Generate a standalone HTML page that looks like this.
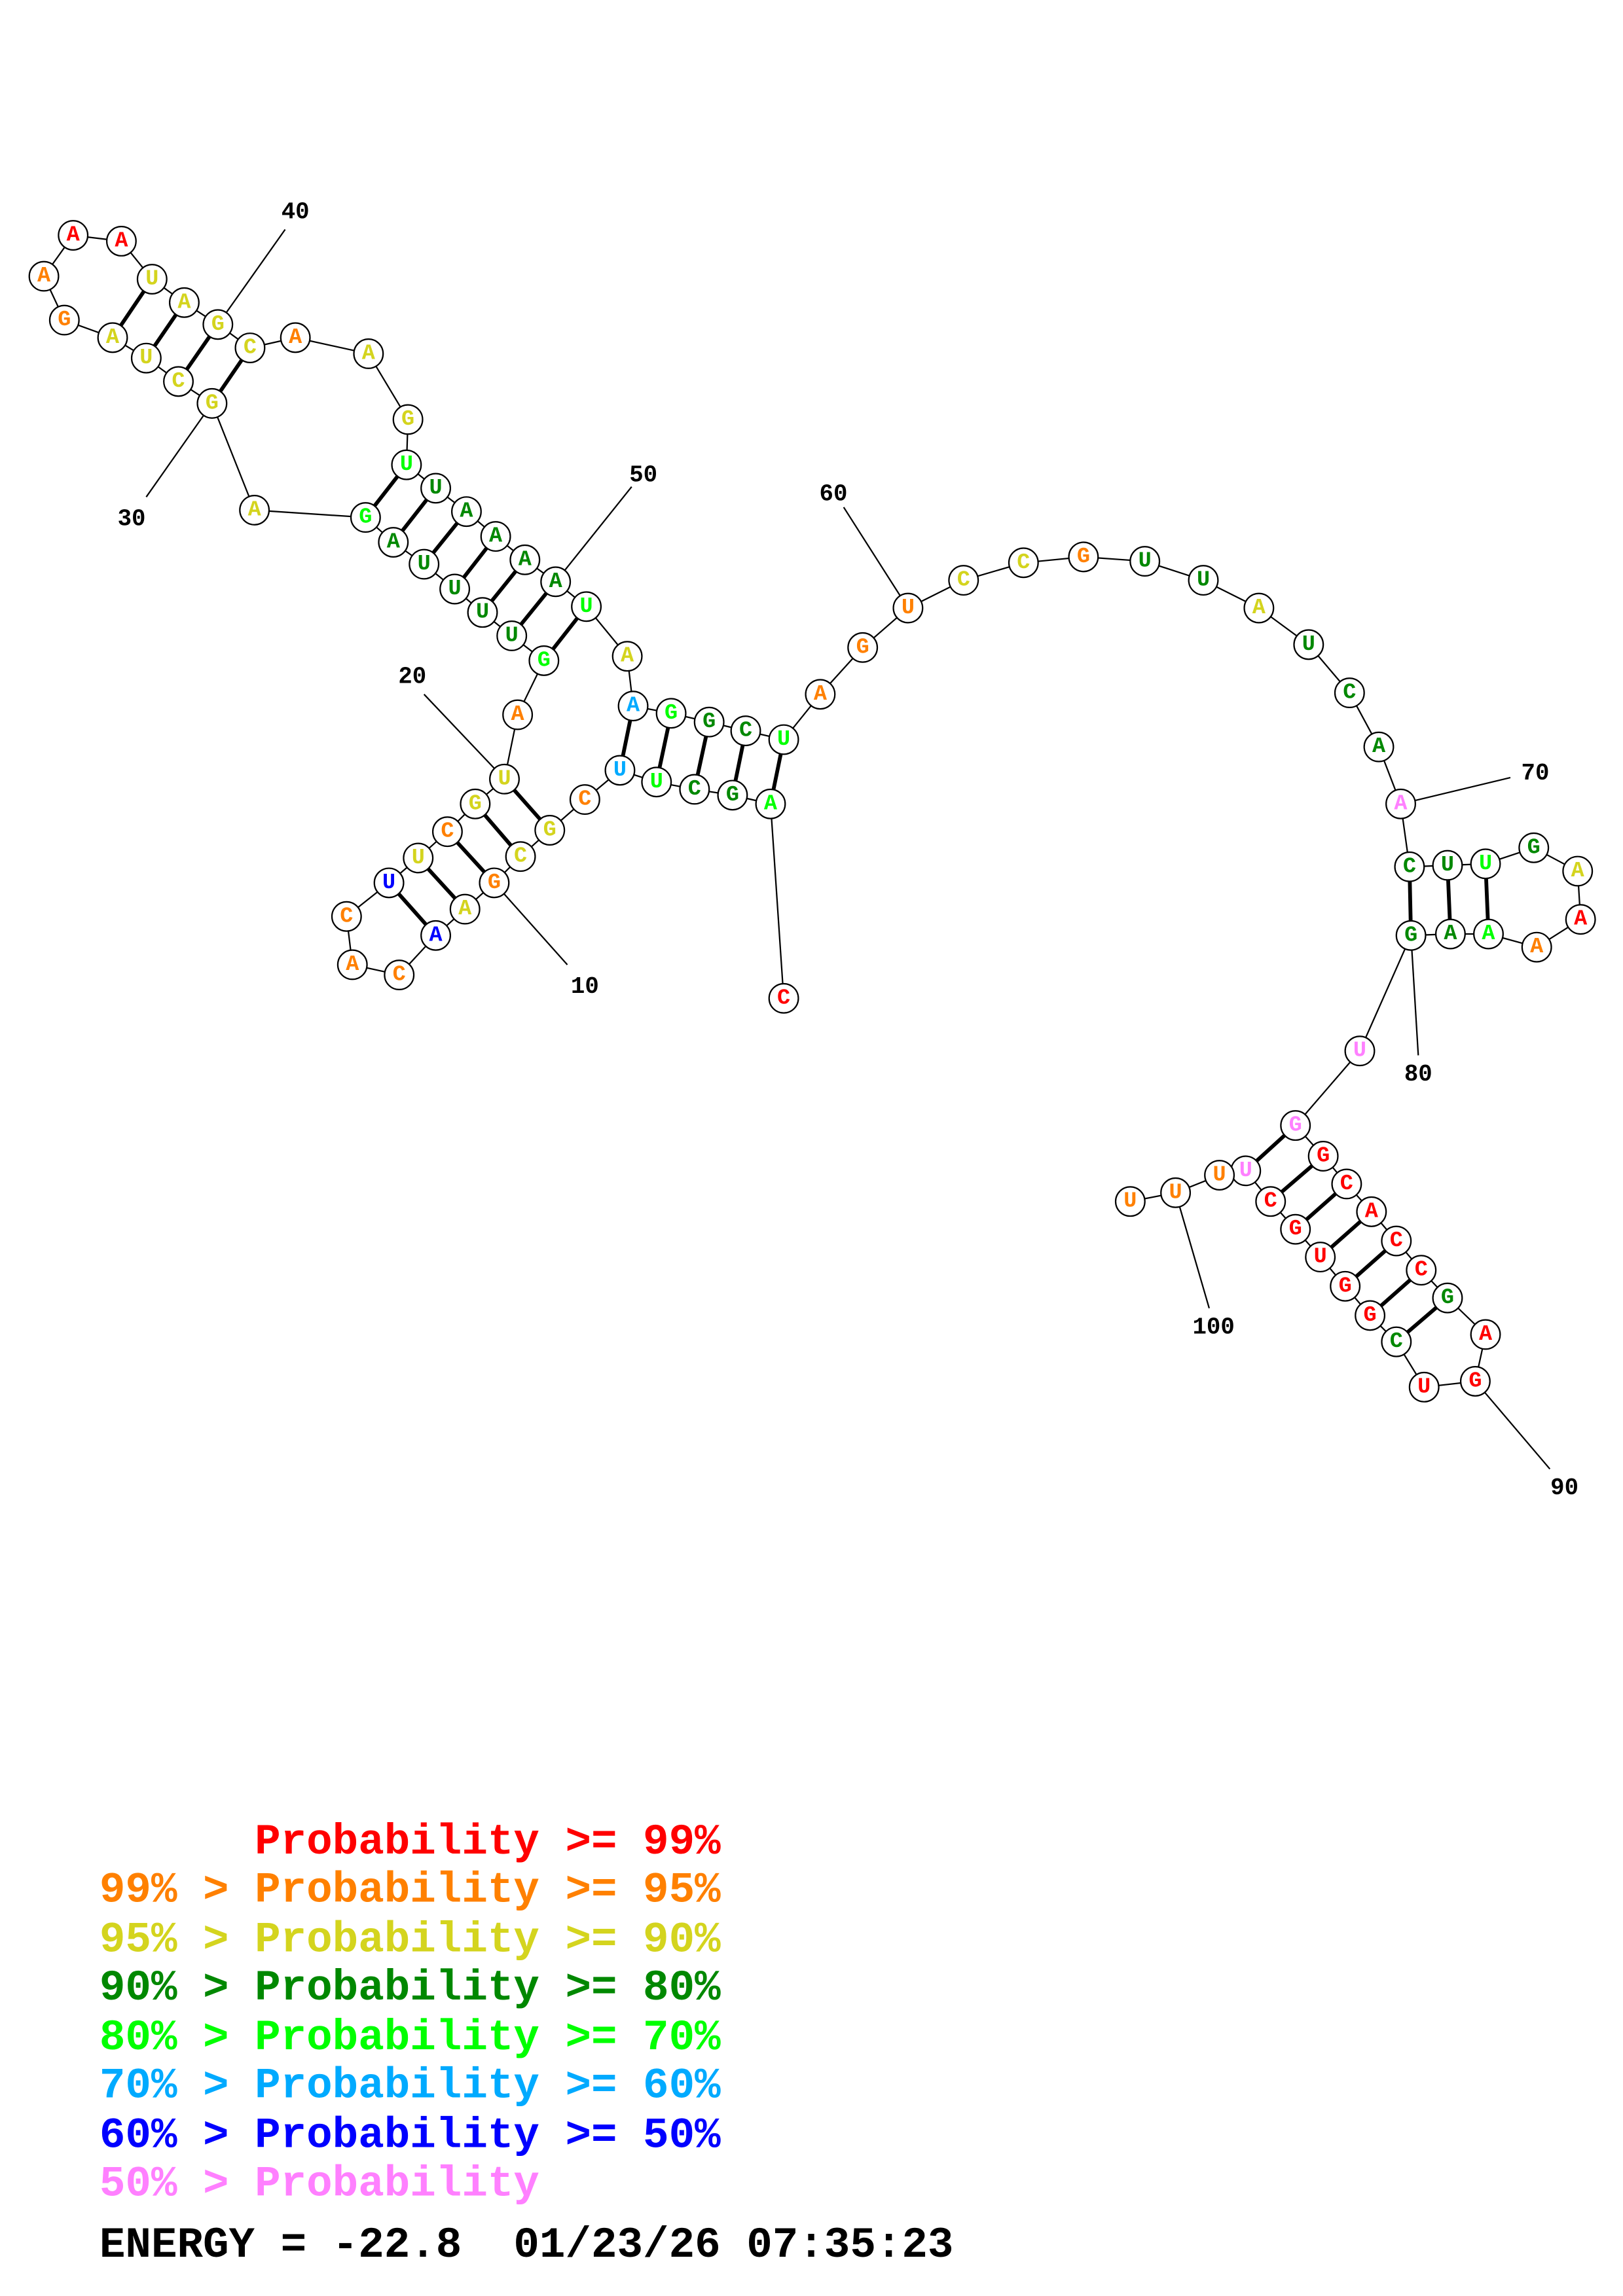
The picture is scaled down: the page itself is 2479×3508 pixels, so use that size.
<!DOCTYPE html>
<html><head><meta charset="utf-8"><style>html,body{margin:0;padding:0;background:#fff}svg{display:block}.pre{white-space:pre}</style></head>
<body>
<svg width="2479" height="3508" viewBox="0 0 1110 1570.8" xmlns="http://www.w3.org/2000/svg">
<rect width="1110" height="1571" fill="#fff"/>
<g stroke="#000" stroke-width="1" fill="none">
<polyline points="536,683 527,550 501,544 475,540 449,535 424,527 400,547 376,568 356,586 338,604 318,622 298,640 273,667 241,660 237,627 266,604 286,587 306,569 325,550 345,533 354,489 372,452 350,435 330,419 311,403 290,386 269,371 250,354 174,349 145,276 122,261 100,245 77,231 44,219 30,189 50,161 83,165 104,191 126,207 149,222 171,238 202,231 252,242 279,287 278,318 298,334 319,350 339,367 359,383 380,398 401,415 429,449 433,483 459,488 485,494 510,500 536,506 561,475 590,443 621,416 659,397 700,385 741,381 783,384 823,397 861,416 895,441 923,474 943,511 958,550 964,593 990,592 1016,591 1049,580 1079,596 1081,629 1051,648 1018,639 992,639 965,640 930,719 886,770 905,791 921,810 938,829 955,849 972,869 990,888 1016,913 1009,945 974,949 955,918 937,900 920,880 903,860 886,841 869,822 852,801 834,804 804,816 773,822"/>
<line x1="338" y1="604" x2="388" y2="660"/>
<line x1="345" y1="533" x2="290" y2="475"/>
<line x1="145" y1="276" x2="100" y2="340"/>
<line x1="149" y1="222" x2="195" y2="157"/>
<line x1="380" y1="398" x2="432" y2="333"/>
<line x1="621" y1="416" x2="577" y2="347"/>
<line x1="958" y1="550" x2="1033" y2="532"/>
<line x1="965" y1="640" x2="970" y2="722"/>
<line x1="1009" y1="945" x2="1060" y2="1005"/>
<line x1="804" y1="816" x2="827" y2="895"/>
</g>
<g stroke="#000" stroke-width="2.6">
<line x1="527" y1="550" x2="536" y2="506"/><line x1="501" y1="544" x2="510" y2="500"/><line x1="475" y1="540" x2="485" y2="494"/><line x1="449" y1="535" x2="459" y2="488"/><line x1="424" y1="527" x2="433" y2="483"/>
<line x1="376" y1="568" x2="345" y2="533"/><line x1="356" y1="586" x2="325" y2="550"/><line x1="338" y1="604" x2="306" y2="569"/><line x1="318" y1="622" x2="286" y2="587"/><line x1="298" y1="640" x2="266" y2="604"/>
<line x1="372" y1="452" x2="401" y2="415"/><line x1="350" y1="435" x2="380" y2="398"/><line x1="330" y1="419" x2="359" y2="383"/><line x1="311" y1="403" x2="339" y2="367"/><line x1="290" y1="386" x2="319" y2="350"/><line x1="269" y1="371" x2="298" y2="334"/><line x1="250" y1="354" x2="278" y2="318"/>
<line x1="145" y1="276" x2="171" y2="238"/><line x1="122" y1="261" x2="149" y2="222"/><line x1="100" y1="245" x2="126" y2="207"/><line x1="77" y1="231" x2="104" y2="191"/>
<line x1="964" y1="593" x2="965" y2="640"/><line x1="990" y1="592" x2="992" y2="639"/><line x1="1016" y1="591" x2="1018" y2="639"/>
<line x1="886" y1="770" x2="852" y2="801"/><line x1="905" y1="791" x2="869" y2="822"/><line x1="921" y1="810" x2="886" y2="841"/><line x1="938" y1="829" x2="903" y2="860"/><line x1="955" y1="849" x2="920" y2="880"/><line x1="972" y1="869" x2="937" y2="900"/><line x1="990" y1="888" x2="955" y2="918"/>
</g>
<g fill="#fff" stroke="#000" stroke-width="1">
<circle cx="536" cy="683" r="10"/><circle cx="527" cy="550" r="10"/><circle cx="501" cy="544" r="10"/><circle cx="475" cy="540" r="10"/><circle cx="449" cy="535" r="10"/><circle cx="424" cy="527" r="10"/><circle cx="400" cy="547" r="10"/><circle cx="376" cy="568" r="10"/><circle cx="356" cy="586" r="10"/><circle cx="338" cy="604" r="10"/><circle cx="318" cy="622" r="10"/><circle cx="298" cy="640" r="10"/><circle cx="273" cy="667" r="10"/><circle cx="241" cy="660" r="10"/><circle cx="237" cy="627" r="10"/><circle cx="266" cy="604" r="10"/><circle cx="286" cy="587" r="10"/><circle cx="306" cy="569" r="10"/><circle cx="325" cy="550" r="10"/><circle cx="345" cy="533" r="10"/><circle cx="354" cy="489" r="10"/><circle cx="372" cy="452" r="10"/><circle cx="350" cy="435" r="10"/><circle cx="330" cy="419" r="10"/><circle cx="311" cy="403" r="10"/><circle cx="290" cy="386" r="10"/><circle cx="269" cy="371" r="10"/><circle cx="250" cy="354" r="10"/><circle cx="174" cy="349" r="10"/><circle cx="145" cy="276" r="10"/><circle cx="122" cy="261" r="10"/><circle cx="100" cy="245" r="10"/><circle cx="77" cy="231" r="10"/><circle cx="44" cy="219" r="10"/><circle cx="30" cy="189" r="10"/><circle cx="50" cy="161" r="10"/><circle cx="83" cy="165" r="10"/><circle cx="104" cy="191" r="10"/><circle cx="126" cy="207" r="10"/><circle cx="149" cy="222" r="10"/><circle cx="171" cy="238" r="10"/><circle cx="202" cy="231" r="10"/><circle cx="252" cy="242" r="10"/><circle cx="279" cy="287" r="10"/><circle cx="278" cy="318" r="10"/><circle cx="298" cy="334" r="10"/><circle cx="319" cy="350" r="10"/><circle cx="339" cy="367" r="10"/><circle cx="359" cy="383" r="10"/><circle cx="380" cy="398" r="10"/><circle cx="401" cy="415" r="10"/><circle cx="429" cy="449" r="10"/><circle cx="433" cy="483" r="10"/><circle cx="459" cy="488" r="10"/><circle cx="485" cy="494" r="10"/><circle cx="510" cy="500" r="10"/><circle cx="536" cy="506" r="10"/><circle cx="561" cy="475" r="10"/><circle cx="590" cy="443" r="10"/><circle cx="621" cy="416" r="10"/><circle cx="659" cy="397" r="10"/><circle cx="700" cy="385" r="10"/><circle cx="741" cy="381" r="10"/><circle cx="783" cy="384" r="10"/><circle cx="823" cy="397" r="10"/><circle cx="861" cy="416" r="10"/><circle cx="895" cy="441" r="10"/><circle cx="923" cy="474" r="10"/><circle cx="943" cy="511" r="10"/><circle cx="958" cy="550" r="10"/><circle cx="964" cy="593" r="10"/><circle cx="990" cy="592" r="10"/><circle cx="1016" cy="591" r="10"/><circle cx="1049" cy="580" r="10"/><circle cx="1079" cy="596" r="10"/><circle cx="1081" cy="629" r="10"/><circle cx="1051" cy="648" r="10"/><circle cx="1018" cy="639" r="10"/><circle cx="992" cy="639" r="10"/><circle cx="965" cy="640" r="10"/><circle cx="930" cy="719" r="10"/><circle cx="886" cy="770" r="10"/><circle cx="905" cy="791" r="10"/><circle cx="921" cy="810" r="10"/><circle cx="938" cy="829" r="10"/><circle cx="955" cy="849" r="10"/><circle cx="972" cy="869" r="10"/><circle cx="990" cy="888" r="10"/><circle cx="1016" cy="913" r="10"/><circle cx="1009" cy="945" r="10"/><circle cx="974" cy="949" r="10"/><circle cx="955" cy="918" r="10"/><circle cx="937" cy="900" r="10"/><circle cx="920" cy="880" r="10"/><circle cx="903" cy="860" r="10"/><circle cx="886" cy="841" r="10"/><circle cx="869" cy="822" r="10"/><circle cx="852" cy="801" r="10"/><circle cx="834" cy="804" r="10"/><circle cx="804" cy="816" r="10"/><circle cx="773" cy="822" r="10"/>
</g>
<g font-family="Liberation Mono, monospace" font-weight="bold" font-size="15" text-anchor="middle" dominant-baseline="central">
<text x="536" y="683" fill="#f00">C</text><text x="527" y="550" fill="#0f0">A</text><text x="501" y="544" fill="#080">G</text><text x="475" y="540" fill="#080">C</text><text x="449" y="535" fill="#0f0">U</text><text x="424" y="527" fill="#0af">U</text><text x="400" y="547" fill="#ff8000">C</text><text x="376" y="568" fill="#d4d41e">G</text><text x="356" y="586" fill="#d4d41e">C</text><text x="338" y="604" fill="#ff8000">G</text><text x="318" y="622" fill="#d4d41e">A</text><text x="298" y="640" fill="#00f">A</text><text x="273" y="667" fill="#ff8000">C</text><text x="241" y="660" fill="#ff8000">A</text><text x="237" y="627" fill="#ff8000">C</text><text x="266" y="604" fill="#00f">U</text><text x="286" y="587" fill="#d4d41e">U</text><text x="306" y="569" fill="#ff8000">C</text><text x="325" y="550" fill="#d4d41e">G</text><text x="345" y="533" fill="#d4d41e">U</text><text x="354" y="489" fill="#ff8000">A</text><text x="372" y="452" fill="#0f0">G</text><text x="350" y="435" fill="#080">U</text><text x="330" y="419" fill="#080">U</text><text x="311" y="403" fill="#080">U</text><text x="290" y="386" fill="#080">U</text><text x="269" y="371" fill="#080">A</text><text x="250" y="354" fill="#0f0">G</text><text x="174" y="349" fill="#d4d41e">A</text><text x="145" y="276" fill="#d4d41e">G</text><text x="122" y="261" fill="#d4d41e">C</text><text x="100" y="245" fill="#d4d41e">U</text><text x="77" y="231" fill="#d4d41e">A</text><text x="44" y="219" fill="#ff8000">G</text><text x="30" y="189" fill="#ff8000">A</text><text x="50" y="161" fill="#f00">A</text><text x="83" y="165" fill="#f00">A</text><text x="104" y="191" fill="#d4d41e">U</text><text x="126" y="207" fill="#d4d41e">A</text><text x="149" y="222" fill="#d4d41e">G</text><text x="171" y="238" fill="#d4d41e">C</text><text x="202" y="231" fill="#ff8000">A</text><text x="252" y="242" fill="#d4d41e">A</text><text x="279" y="287" fill="#d4d41e">G</text><text x="278" y="318" fill="#0f0">U</text><text x="298" y="334" fill="#080">U</text><text x="319" y="350" fill="#080">A</text><text x="339" y="367" fill="#080">A</text><text x="359" y="383" fill="#080">A</text><text x="380" y="398" fill="#080">A</text><text x="401" y="415" fill="#0f0">U</text><text x="429" y="449" fill="#d4d41e">A</text><text x="433" y="483" fill="#0af">A</text><text x="459" y="488" fill="#0f0">G</text><text x="485" y="494" fill="#080">G</text><text x="510" y="500" fill="#080">C</text><text x="536" y="506" fill="#0f0">U</text><text x="561" y="475" fill="#ff8000">A</text><text x="590" y="443" fill="#ff8000">G</text><text x="621" y="416" fill="#ff8000">U</text><text x="659" y="397" fill="#d4d41e">C</text><text x="700" y="385" fill="#d4d41e">C</text><text x="741" y="381" fill="#ff8000">G</text><text x="783" y="384" fill="#080">U</text><text x="823" y="397" fill="#080">U</text><text x="861" y="416" fill="#d4d41e">A</text><text x="895" y="441" fill="#080">U</text><text x="923" y="474" fill="#080">C</text><text x="943" y="511" fill="#080">A</text><text x="958" y="550" fill="#ff80ff">A</text><text x="964" y="593" fill="#080">C</text><text x="990" y="592" fill="#080">U</text><text x="1016" y="591" fill="#0f0">U</text><text x="1049" y="580" fill="#080">G</text><text x="1079" y="596" fill="#d4d41e">A</text><text x="1081" y="629" fill="#f00">A</text><text x="1051" y="648" fill="#ff8000">A</text><text x="1018" y="639" fill="#0f0">A</text><text x="992" y="639" fill="#080">A</text><text x="965" y="640" fill="#080">G</text><text x="930" y="719" fill="#ff80ff">U</text><text x="886" y="770" fill="#ff80ff">G</text><text x="905" y="791" fill="#f00">G</text><text x="921" y="810" fill="#f00">C</text><text x="938" y="829" fill="#f00">A</text><text x="955" y="849" fill="#f00">C</text><text x="972" y="869" fill="#f00">C</text><text x="990" y="888" fill="#080">G</text><text x="1016" y="913" fill="#f00">A</text><text x="1009" y="945" fill="#f00">G</text><text x="974" y="949" fill="#f00">U</text><text x="955" y="918" fill="#080">C</text><text x="937" y="900" fill="#f00">G</text><text x="920" y="880" fill="#f00">G</text><text x="903" y="860" fill="#f00">U</text><text x="886" y="841" fill="#f00">G</text><text x="869" y="822" fill="#f00">C</text><text x="852" y="801" fill="#ff80ff">U</text><text x="834" y="804" fill="#ff8000">U</text><text x="804" y="816" fill="#ff8000">U</text><text x="773" y="822" fill="#ff8000">U</text>
</g>
<g font-family="Liberation Mono, monospace" font-weight="bold" font-size="16" text-anchor="middle" dominant-baseline="central" fill="#000">
<text x="400" y="675">10</text><text x="282" y="463">20</text><text x="90" y="355">30</text><text x="202" y="145">40</text><text x="440" y="325">50</text><text x="570" y="338">60</text><text x="1050" y="529">70</text><text x="970" y="735">80</text><text x="1070" y="1018">90</text><text x="830" y="908">100</text>
</g>
<g font-family="Liberation Mono, monospace" font-weight="bold" font-size="29.5">
<text class="pre" x="68" y="1268" fill="#f00">      Probability &gt;= 99%</text>
<text class="pre" x="68" y="1301" fill="#ff8000">99% &gt; Probability &gt;= 95%</text>
<text class="pre" x="68" y="1335" fill="#d4d41e">95% &gt; Probability &gt;= 90%</text>
<text class="pre" x="68" y="1368" fill="#080">90% &gt; Probability &gt;= 80%</text>
<text class="pre" x="68" y="1402" fill="#0f0">80% &gt; Probability &gt;= 70%</text>
<text class="pre" x="68" y="1435" fill="#0af">70% &gt; Probability &gt;= 60%</text>
<text class="pre" x="68" y="1469" fill="#00f">60% &gt; Probability &gt;= 50%</text>
<text class="pre" x="68" y="1502" fill="#ff80ff">50% &gt; Probability</text>
<text class="pre" x="68" y="1544" fill="#000">ENERGY = -22.8  01/23/26 07:35:23</text>
</g>
</svg>
</body></html>
